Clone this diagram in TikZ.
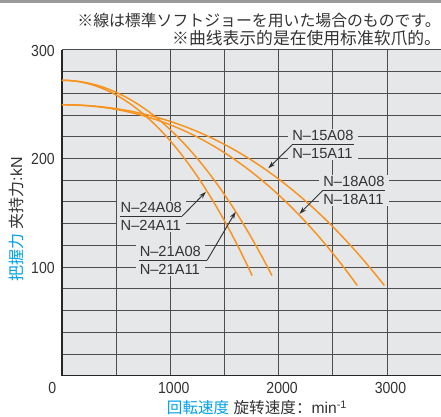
\documentclass[tikz,border=0pt]{standalone}
\usepackage{fontspec}
\usepackage{xcolor}
\usepackage{graphicx}
\usepackage{tikz}
\usetikzlibrary{arrows.meta,positioning}
\setmainfont{Liberation Sans}
\newfontfamily\jpfont{Noto Sans CJK JP}
\newfontfamily\scfont{Noto Sans CJK SC}
\definecolor{plotbg}{HTML}{E6E7E8}
\definecolor{gridln}{HTML}{4D4D4D}
\definecolor{curveor}{HTML}{F7931E}
\definecolor{jpcyan}{HTML}{00A0E9}
\definecolor{inkgray}{HTML}{333333}
\definecolor{topbar}{HTML}{9A9A9A}
\newcommand{\ticktext}[1]{\scalebox{0.88}[1]{#1}}

\begin{document}
\begin{tikzpicture}[x=81.25pt, y=81.45pt,
                    gridline/.style = {draw=gridln, line width=0.7pt},
                    axisline/.style = {draw=black!85, line width=1.1pt},
                    curve/.style = {draw=curveor, line width=1.1pt},
                    tag/.style = {fill=plotbg, text=inkgray, align=left, inner xsep=3pt, inner ysep=1pt,
                                  font=\fontsize{11}{13.5}\selectfont},
                    tagrule/.style = {draw=inkgray, line width=0.7pt},
                    leader/.style = {draw=inkgray, line width=0.7pt, -{Stealth[length=5.5pt,width=3.5pt]}},
                    ticklab/.style = {text=inkgray, inner sep=0pt, font=\fontsize{12}{12}\selectfont},
                    note/.style = {text=inkgray, inner sep=0pt, anchor=west}]
                \useasboundingbox (-0.5723,-0.3711) rectangle (3.4985,3.4595);
                \fill[topbar] (-0.5723,3.4273) rectangle (3.4985,3.4595);
                \fill[plotbg] (0,0) rectangle (3.6,3);
                \foreach \k in {1,...,7}
                    \draw[gridline] ({\k/2},0) -- ({\k/2},3);
                \foreach \k in {1,...,15}
                    \draw[gridline] (0,{\k/5}) -- (3.6,{\k/5});
                \draw[axisline] (0,3) -- (0,0) -- (3.6,0);
                \draw[curve] plot[domain=0:1.756, samples=80] (\x, {2.72 - 1.80*(0.9*(\x/1.756)^2 + 0.1*(\x/1.756)^3)});
                \draw[curve] plot[domain=0:1.939, samples=80] (\x, {2.72 - 1.80*(0.9*(\x/1.939)^2 + 0.1*(\x/1.939)^3)});
                \draw[curve] plot[domain=0:2.726, samples=80] (\x, {2.495 - 1.665*(0.726*(\x/2.726)^2 + 0.274*(\x/2.726)^3)});
                \draw[curve] plot[domain=0:2.976, samples=80] (\x, {2.495 - 1.665*(0.726*(\x/2.976)^2 + 0.274*(\x/2.976)^3)});
                \coordinate (t15) at (1.904,1.910);
                \coordinate (t18) at (2.190,1.489);
                \coordinate (t24) at (1.329,1.694);
                \coordinate (t21) at (1.603,1.510);
                \node[tag] (n15) at (2.409,2.125) {N\textendash15A08\\N\textendash15A11};
                \node[tag] (n18) at (2.695,1.708) {N\textendash18A08\\N\textendash18A11};
                \node[tag] (n24) at (0.824,1.469) {N\textendash24A08\\N\textendash24A11};
                \node[tag] (n21) at (1.000,1.064) {N\textendash21A08\\N\textendash21A11};
                \draw[tagrule] ([xshift=-3pt]n15.east) -- ([xshift=3pt]n15.west);
                \draw[leader] ([xshift=3pt]n15.west) -- (t15);
                \draw[tagrule] ([xshift=-3pt]n18.east) -- ([xshift=3pt]n18.west);
                \draw[leader] ([xshift=3pt]n18.west) -- (t18);
                \draw[tagrule] ([xshift=3pt]n24.west) -- ([xshift=-3pt]n24.east);
                \draw[leader] ([xshift=-3pt]n24.east) -- (t24);
                \draw[tagrule] ([xshift=3pt]n21.west) -- ([xshift=1.5pt]n21.east);
                \draw[leader] ([xshift=1.5pt]n21.east) -- (t21);
                \foreach \v in {1,2,3}
                    \node[ticklab, anchor=east] (y\v) at (-0.065,\v-0.009) {\ticktext{\v00}};
                \node[ticklab] (x0) at (-0.09,-0.109) {\ticktext{0}};
                \foreach \v in {1,2,3}
                    \node[ticklab] (x\v) at (\v+0.032,-0.109) {\ticktext{\v000}};
                \node[note, anchor=east, font=\jpfont\fontsize{11.9}{14}\selectfont] (note1) at (3.4985,3.271)
                    {※線は標準ソフトジョーを用いた場合のものです。};
                \node[note, font=\scfont\fontsize{12.6}{14}\selectfont] (note2) at (1.015,3.105)
                    {※曲线表示的是在使用标准软爪的。};
                \node[note, font=\fontsize{11.7}{14}\selectfont] (xtitle) at (0.966,-0.297)
                    {{\jpfont\color{jpcyan}回転速度} {\scfont 旋转速度：}min\textsuperscript{-1}};
                \node[note, rotate=90, font=\fontsize{12}{14}\selectfont] (ytitle) at (-0.425,0.863)
                    {{\jpfont\color{jpcyan}把握力} {\scfont 夹持力}:kN};
                \end{tikzpicture}
\end{document}
